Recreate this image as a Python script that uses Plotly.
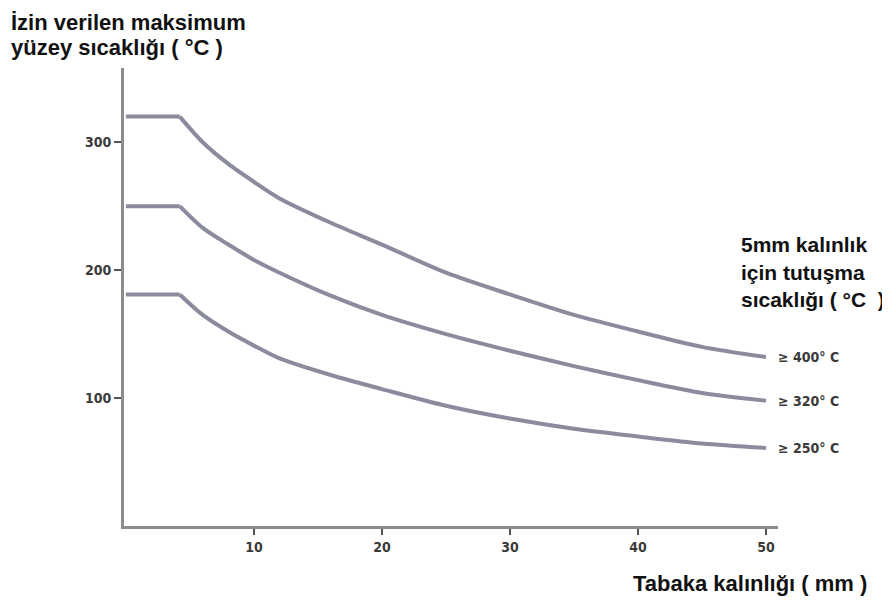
import plotly.graph_objects as go

# Layer thickness (mm)
thickness = [0, 4.2, 6, 8, 10, 12, 16, 20, 25, 30, 35, 40, 45, 50]
# Maximum permitted surface temperature (°C) per ignition-temperature class
temp_400 = [320, 320, 300, 283, 269, 256, 237, 220, 198, 181, 165, 152, 140, 132]
temp_320 = [250, 250, 233, 220, 208, 198, 180, 165, 150, 137, 125, 114, 104, 98]
temp_250 = [181, 181, 165, 152, 141, 131, 118, 107, 94, 84, 76, 70, 64.5, 61]
series_labels = ["≥ 400° C", "≥ 320° C", "≥ 250° C"]

x_ticks = [10, 20, 30, 40, 50]
y_ticks = [100, 200, 300]

title_y_lines = ["İzin verilen maksimum", "yüzey sıcaklığı ( °C )"]
title_r_lines = ["5mm kalınlık", "için tutuşma", "sıcaklığı ( °C  )"]
title_x = "Tabaka kalınlığı ( mm )"

small_font = dict(family="Liberation Sans Narrow, DejaVu Sans Condensed, Arial Narrow, sans-serif",
                  size=14, color="#3a3a3a", weight="bold")
big_font = dict(family="Liberation Sans, Arial, sans-serif", size=22, color="#111111", weight="bold")
right_font = dict(big_font, size=21)

line_color = "#8b8b9e"
fig = go.Figure()
knee = 1
for ys, lab in zip([temp_400, temp_320, temp_250], series_labels):
    fig.add_trace(go.Scatter(x=thickness[:knee + 1], y=ys[:knee + 1], mode="lines",
                             line=dict(color=line_color, width=4),
                             showlegend=False, hoverinfo="skip"))
    fig.add_trace(go.Scatter(x=thickness[knee:], y=ys[knee:], mode="lines",
                             line=dict(color=line_color, width=4, shape="spline", smoothing=0.8),
                             showlegend=False, hoverinfo="skip"))
    fig.add_annotation(x=thickness[-1], y=ys[-1], xref="x", yref="y", text=lab,
                       showarrow=False, xanchor="left", yanchor="middle", xshift=10,
                       font=small_font)

OFF = 8  # page body margin
W, H = 890 - OFF, 606 - OFF
ml, mr, mt, mb = 124 - OFF, 112, 68 - OFF, 80
pw, ph = W - ml - mr, H - mt - mb

def px(xp):
    return (xp - OFF - ml) / pw

def py(yp):
    return (H - mb - (yp - OFF)) / ph

for i, t in enumerate(title_y_lines):
    fig.add_annotation(x=px(9), y=py(22 + 26 * i), xref="paper", yref="paper", text=t,
                       showarrow=False, xanchor="left", yanchor="middle", font=big_font)
for i, t in enumerate(title_r_lines):
    fig.add_annotation(x=px(739), y=py(245 + 27 * i), xref="paper", yref="paper", text=t,
                       showarrow=False, xanchor="left", yanchor="middle", font=right_font)
fig.add_annotation(x=px(631), y=py(583), xref="paper", yref="paper", text=title_x,
                   showarrow=False, xanchor="left", yanchor="middle", font=big_font)

fig.update_layout(
    width=W, height=H,
    margin=dict(l=ml, r=mr, t=mt, b=mb),
    paper_bgcolor="white", plot_bgcolor="white",
    xaxis=dict(range=[-0.15, 50.94], tickvals=x_ticks, ticktext=[str(v) for v in x_ticks],
               showgrid=False, zeroline=False, showline=True, linecolor="#8c8c8c", linewidth=3,
               ticks="outside", ticklen=6, tickwidth=2, tickcolor="#555555",
               tickfont=small_font, fixedrange=True),
    yaxis=dict(range=[0, 358], tickvals=y_ticks, ticktext=[str(v) for v in y_ticks],
               showgrid=False, zeroline=False, showline=True, linecolor="#8c8c8c", linewidth=3,
               ticks="outside", ticklen=7, tickwidth=2, tickcolor="#555555",
               tickfont=small_font, fixedrange=True),
)

fig.write_html("out.html")
